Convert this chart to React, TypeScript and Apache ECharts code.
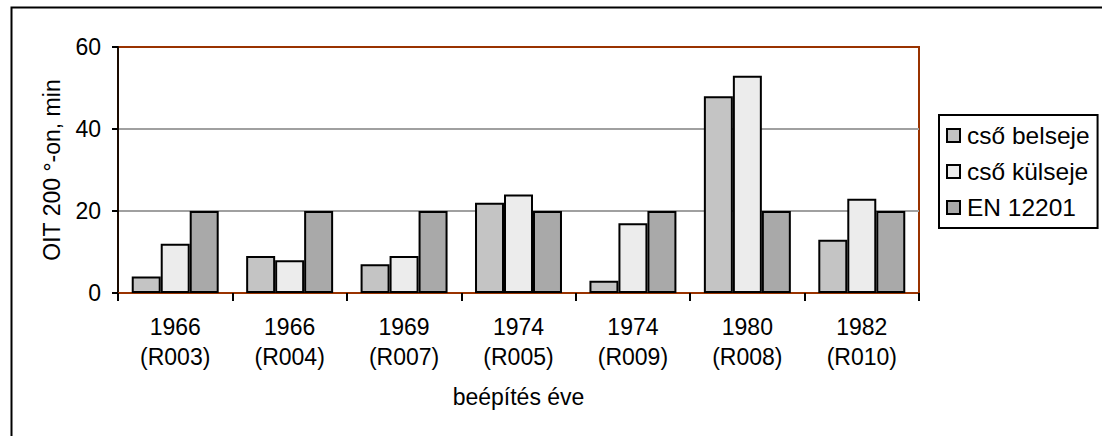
import React, { useEffect, useRef } from "react";
import * as echarts from "echarts";

const years = ["1966", "1966", "1969", "1974", "1974", "1980", "1982"];
const codes = ["(R003)", "(R004)", "(R007)", "(R005)", "(R009)", "(R008)", "(R010)"];
const categories = years.map((y, i) => `${y}\n${codes[i]}`);

const seriesNames = ["cső belseje", "cső külseje", "EN 12201"];
const belseje = [4, 9, 7, 22, 3, 48, 13];
const kulseje = [12, 8, 9, 24, 17, 53, 23];
const en12201 = [20, 20, 20, 20, 20, 20, 20];
const fills = ["#c4c4c4", "#ececec", "#a9a9a9"];

const yTicks = { min: 0, max: 60, interval: 20 };

const FONT = "'Liberation Sans', Arial, sans-serif";
const FS = 23;
const LFS = 24.5;

export default function App() {
  const ref = useRef<HTMLDivElement>(null);
  useEffect(() => {
    if (!ref.current) return;
    const chart = echarts.init(ref.current, undefined, { renderer: "svg" });
    const data = [belseje, kulseje, en12201];
    chart.setOption({
      animation: false,
      backgroundColor: "#ffffff",
      textStyle: { fontFamily: FONT, color: "#000" },
      grid: {
        left: 118,
        right: 183,
        top: 47,
        bottom: 143,
        show: true,
        borderColor: "#993300",
        borderWidth: 2,
        backgroundColor: "transparent",
      },
      legend: {
        orient: "vertical",
        left: 939,
        top: 115,
        itemWidth: 13,
        itemHeight: 13,
        itemGap: 11,
        padding: [8, 8, 8, 7],
        borderColor: "#000",
        borderWidth: 2,
        textStyle: {
          fontFamily: FONT,
          fontSize: LFS,
          color: "#000",
          lineHeight: 24,
          padding: [0, 0, 0, 2],
        },
        data: seriesNames.map((n) => ({ name: n, icon: "rect" })),
      },
      xAxis: {
        type: "category",
        data: categories,
        name: "beépítés éve",
        nameLocation: "middle",
        nameGap: 92,
        nameTextStyle: { fontFamily: FONT, fontSize: FS, color: "#000" },
        axisLine: { show: true, lineStyle: { color: "#993300", width: 2 } },
        axisTick: { show: true, length: 8, lineStyle: { color: "#000", width: 2 } },
        axisLabel: {
          fontFamily: FONT,
          fontSize: FS,
          color: "#000",
          lineHeight: 30,
          margin: 19,
        },
        splitLine: { show: false },
      },
      yAxis: {
        type: "value",
        min: yTicks.min,
        max: yTicks.max,
        interval: yTicks.interval,
        name: "OIT 200 °-on, min",
        nameLocation: "middle",
        nameGap: 55,
        nameTextStyle: { fontFamily: FONT, fontSize: FS, color: "#000" },
        axisLine: { show: true, lineStyle: { color: "#1a0a00", width: 2 } },
        axisTick: { show: true, length: 6, lineStyle: { color: "#000", width: 2 } },
        axisLabel: { fontFamily: FONT, fontSize: FS, color: "#000", margin: 17 },
        splitLine: {
          show: true,
          lineStyle: { color: ["transparent", "#a0a0a0", "#a0a0a0", "transparent"], width: 2 },
        },
      },
      series: seriesNames.map((name, i) => ({
        name,
        type: "bar",
        data: data[i],
        barGap: "0%",
        barCategoryGap: "24%",
        itemStyle: { color: fills[i], borderColor: "#000", borderWidth: 2 },
      })),
      graphic: [
        {
          type: "rect",
          left: 9,
          top: 5,
          shape: { x: 0, y: 0, width: 1300, height: 600 },
          style: { fill: "none", stroke: "#000", lineWidth: 2 },
          silent: true,
        },
      ],
    });
    return () => chart.dispose();
  }, []);
  return (
    <div
      ref={ref}
      style={{ position: "fixed", left: 0, top: 0, width: 1102, height: 436 }}
    />
  );
}
